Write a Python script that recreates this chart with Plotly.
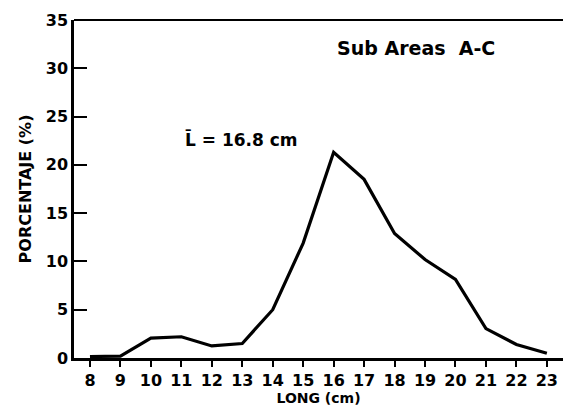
import plotly.graph_objects as go

# length classes (cm) and percentage per class
long_cm = [8, 9, 10, 11, 12, 13, 14, 15, 16, 17, 18, 19, 20, 21, 22, 23]
porcentaje = [0.15, 0.2, 2.05, 2.2, 1.25, 1.5, 5.0, 11.9, 21.3, 18.5, 12.9, 10.2, 8.15, 3.05, 1.4, 0.5]
y_ticks = [0, 5, 10, 15, 20, 25, 30, 35]

INK = "#000000"
FONT = "DejaVu Sans, Arial, sans-serif"

fig = go.Figure(go.Scatter(x=long_cm, y=porcentaje, mode="lines",
                           line=dict(color=INK, width=3.2), hoverinfo="skip"))

fig.update_layout(
    width=564, height=408,
    margin=dict(l=74, r=1, t=20, b=50),
    plot_bgcolor="#ffffff", paper_bgcolor="#ffffff",
    showlegend=False,
    font=dict(family=FONT, color=INK),
)
fig.update_xaxes(range=[7.476, 23.53], tickvals=long_cm, showgrid=False, zeroline=False,
                 showline=True, linecolor=INK, linewidth=2.5,
                 ticks="outside", ticklen=6, tickwidth=2, tickcolor=INK,
                 tickfont=dict(size=16, family=FONT, weight="bold"),
                 title=dict(text="LONG (cm)", font=dict(size=14, weight="bold"), standoff=2))
fig.update_yaxes(range=[0, 35], tickvals=y_ticks, showgrid=False, zeroline=False,
                 showline=True, linecolor=INK, linewidth=2.5,
                 ticks="inside", ticklen=13, tickwidth=2, tickcolor=INK,
                 tickfont=dict(size=16, family=FONT, weight="bold"),
                 title=dict(text="PORCENTAJE (%)", font=dict(size=16, weight="bold"), standoff=11))

# top border of the frame (open on the right)
fig.add_shape(type="line", xref="paper", yref="paper", x0=0, x1=1, y0=1, y1=1,
              line=dict(color=INK, width=2))

fig.add_annotation(x=0.534, y=0.955, xref="paper", yref="paper", xanchor="left",
                   text="Sub Areas  A-C", showarrow=False,
                   font=dict(size=19, family=FONT, weight="bold"))
fig.add_annotation(x=0.223, y=0.645, xref="paper", yref="paper", xanchor="left",
                   text="L\u0304 = 16.8 cm", showarrow=False,
                   font=dict(size=17, family=FONT, weight="bold"))

fig.write_html("out.html", config={"displayModeBar": False},
               post_script="document.body.style.margin='0';")
